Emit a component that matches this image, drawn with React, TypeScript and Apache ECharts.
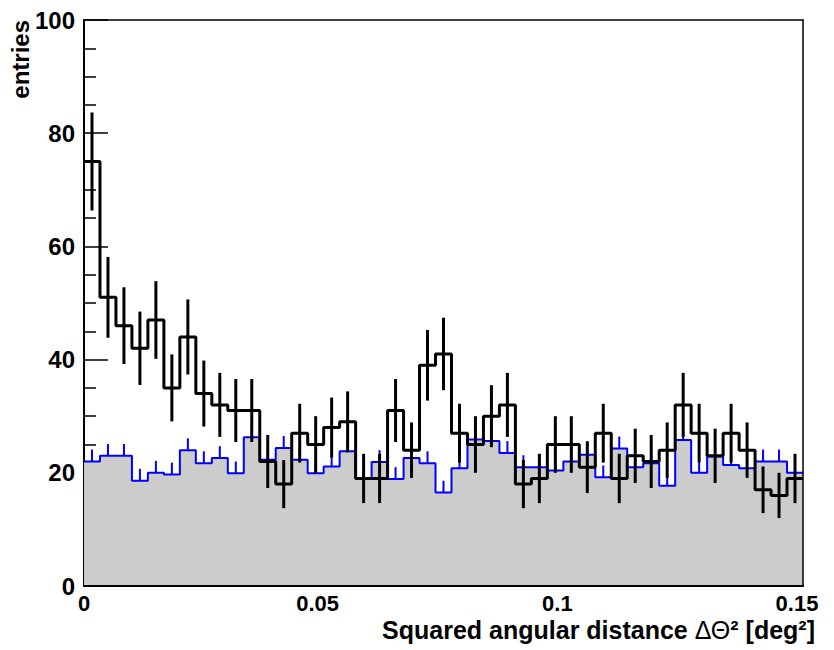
import React, { useEffect, useRef } from "react";
import * as echarts from "echarts";

// Histogram range
const X_MIN = 0;
const X_MAX = 0.15;
const Y_MIN = 0;
const Y_MAX = 100;
const X_INTERVAL = 0.05;
const Y_INTERVAL = 20;

// ON-region counts (black, Poisson errors)
const onCounts = [
  75, 51, 46, 42, 47, 35, 44, 34, 32, 31, 31, 22, 18, 27, 25,
  28, 29, 19, 19, 31, 24, 39, 41, 27, 25, 30, 32, 18, 19, 25,
  25, 21, 27, 19, 23, 22, 24, 32, 27, 23, 27, 24, 17, 16, 19,
];

// Normalised background (blue, grey fill)
const bgCounts = [
  22.0, 23.0, 23.0, 18.6, 20.0, 19.7, 24.0, 21.7, 22.6, 19.9, 26.3, 22.3, 24.4, 22.3, 19.9,
  21.1, 23.8, 19.0, 21.9, 18.9, 22.6, 21.7, 16.5, 20.8, 25.9, 25.6, 23.5, 21.0, 21.0, 20.4,
  22.0, 23.2, 19.2, 24.3, 21.0, 21.7, 17.7, 25.8, 20.0, 22.9, 21.4, 20.8, 22.0, 22.0, 20.0,
];
const BG_ERR = 2.1;

const FONT = "'Liberation Sans', Arial, Helvetica, sans-serif";

export default function App() {
  const ref = useRef<HTMLDivElement>(null);

  useEffect(() => {
    const chart = echarts.init(ref.current!, null, { renderer: "svg" });
    const nb = onCounts.length;
    const bw = (X_MAX - X_MIN) / nb;

    const stepData = (vals: number[]) =>
      vals.map((v, i) => [X_MIN + i * bw, v]).concat([[X_MAX, vals[vals.length - 1]]]);

    const onErr = onCounts.map((v, i) => [X_MIN + (i + 0.5) * bw, v - Math.sqrt(v), v + Math.sqrt(v)]);
    const bgErr = bgCounts.map((v, i) => [X_MIN + (i + 0.5) * bw, v, v + BG_ERR]);

    const errRender = (color: string, width: number) => (params: any, api: any) => {
      const p1 = api.coord([api.value(0), api.value(1)]);
      const p2 = api.coord([api.value(0), api.value(2)]);
      return {
        type: "line",
        shape: { x1: p1[0], y1: p1[1], x2: p2[0], y2: p2[1] },
        style: { stroke: color, lineWidth: width },
      };
    };

    const labelStyle = {
      color: "#000",
      fontFamily: FONT,
      fontWeight: "bold" as const,
      fontSize: 24,
    };
    const xLabelStyle = { ...labelStyle, fontSize: 22, lineHeight: 18 };

    chart.setOption({
      animation: false,
      backgroundColor: "#fff",
      grid: { left: 84, right: 31, top: 20, bottom: 64, containLabel: false },
      xAxis: [
        {
          type: "value",
          min: X_MIN,
          max: X_MAX,
          interval: X_INTERVAL,
          z: 10,
          axisLine: { show: true, lineStyle: { color: "#000", width: 2 } },
          axisTick: { show: false },
          splitLine: { show: false },
          axisLabel: {
            ...xLabelStyle,
            margin: 8,
            showMinLabel: true,
            showMaxLabel: true,
            formatter: (v: number) => (v === 0 ? "{z|0}" : "{n|" + String(+v.toFixed(2)) + "}"),
            rich: {
              z: { ...xLabelStyle },
              n: { ...xLabelStyle, padding: [0, 12, 0, 0] },
            },
          },
        },
        {
          type: "value",
          position: "top",
          min: X_MIN,
          max: X_MAX,
          z: 10,
          axisLine: { show: true, onZero: false, lineStyle: { color: "#000", width: 1.5 } },
          axisTick: { show: false },
          axisLabel: { show: false },
          splitLine: { show: false },
        },
      ],
      yAxis: [
        {
          type: "value",
          min: Y_MIN,
          max: Y_MAX,
          interval: Y_INTERVAL,
          axisLine: { show: true, lineStyle: { color: "#000", width: 2 } },
          axisTick: { show: true, inside: true, length: 24, lineStyle: { color: "#000", width: 1.5 } },
          minorTick: { show: true, splitNumber: 4, length: 12, lineStyle: { color: "#000", width: 1.5 } },
          splitLine: { show: false },
          axisLabel: { ...labelStyle, margin: 9, padding: [6, 0, 0, 0] },
        },
        {
          type: "value",
          position: "right",
          min: Y_MIN,
          max: Y_MAX,
          z: 10,
          axisLine: { show: true, onZero: false, lineStyle: { color: "#000", width: 1.5 } },
          axisTick: { show: false },
          axisLabel: { show: false },
          splitLine: { show: false },
        },
      ],
      series: [
        {
          type: "line",
          step: "end",
          data: stepData(bgCounts),
          symbol: "none",
          silent: true,
          lineStyle: { color: "#0000ff", width: 2 },
          areaStyle: { color: "#cccccc", opacity: 1 },
          z: 2,
        },
        {
          type: "custom",
          data: bgErr,
          encode: { x: 0, y: [1, 2] },
          renderItem: errRender("#0000ff", 2),
          silent: true,
          z: 3,
        },
        {
          type: "line",
          step: "end",
          data: stepData(onCounts),
          symbol: "none",
          silent: true,
          lineStyle: { color: "#000", width: 3 },
          z: 4,
        },
        {
          type: "custom",
          data: onErr,
          encode: { x: 0, y: [1, 2] },
          renderItem: errRender("#000", 3),
          silent: true,
          z: 5,
        },
      ],
      graphic: [
        {
          type: "text",
          x: 8,
          y: 20,
          rotation: Math.PI / 2,
          style: {
            text: "entries",
            font: `bold 24px ${FONT}`,
            fill: "#000",
            align: "right",
            verticalAlign: "top",
          },
        },
        {
          type: "text",
          right: 19,
          top: 617,
          style: {
            text: "{a|Squared angular distance }{g|ΔΘ}{a|² [deg²]}",
            fill: "#000",
            rich: {
              a: { fontFamily: FONT, fontWeight: "bold", fontSize: 25, lineHeight: 22, fill: "#000" },
              g: { fontFamily: FONT, fontWeight: "normal", fontSize: 25, lineHeight: 22, fill: "#000" },
            },
          },
        },
      ],
    });

    return () => chart.dispose();
  }, []);

  return (
    <div
      ref={ref}
      style={{ position: "fixed", left: 0, top: 0, width: 834, height: 650, background: "#fff" }}
    />
  );
}
